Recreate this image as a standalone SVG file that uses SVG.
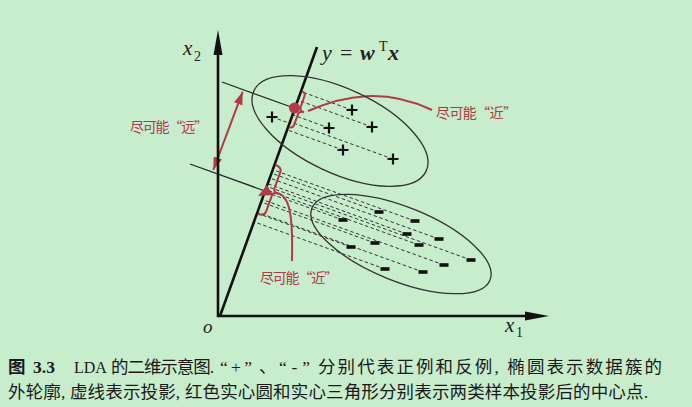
<svg xmlns="http://www.w3.org/2000/svg" width="692" height="407" viewBox="0 0 692 407">
<style>
.bg{fill:#c7edcc}
.axis{stroke:#111;stroke-width:2.6;fill:none}
.thin{stroke:#222;stroke-width:1.2;fill:none}
.ell{stroke:#333;stroke-width:1.3;fill:none}
.dash{stroke:#333;stroke-width:1;stroke-dasharray:3.5 2.5;fill:none}
.red{stroke:#b03a48;stroke-width:2;fill:none}
.redfill{fill:#b03a48}
.plus{stroke:#111;stroke-width:2.2;fill:none}
.minus{fill:#111}
.lbl{font-family:"Noto Sans CJK SC",sans-serif;font-size:14px;fill:#b03a48}
.math{font-family:"Liberation Serif","DejaVu Serif",serif;fill:#222}
.cap{font-family:"Liberation Serif","Noto Sans CJK SC",serif;font-size:17.5px;fill:#1a1a1a}
</style>
<defs>
<marker id="ah" viewBox="0 0 13 9" refX="13" refY="4.5" markerWidth="13" markerHeight="9" markerUnits="userSpaceOnUse" orient="auto-start-reverse">
<path d="M0,0 L13,4.5 L0,9 z" fill="#b03a48"/>
</marker>
<path id="plus" d="M-5.5,0 H5.5 M0,-5.5 V5.5"/>
<rect id="minus" x="-4.5" y="-1.8" width="9" height="3.6"/>
</defs>
<rect class="bg" x="0" y="0" width="692" height="407"/>

<g id="connectors">
<line class="dash" x1="272" y1="117" x2="289.5" y2="123.2"/>
<line class="dash" x1="352" y1="110" x2="300.9" y2="91.5"/>
<line class="dash" x1="329" y1="128" x2="292.5" y2="114.7"/>
<line class="dash" x1="372" y1="127" x2="297.8" y2="100.1"/>
<line class="dash" x1="343" y1="150" x2="287.1" y2="129.8"/>
<line class="dash" x1="393" y1="159" x2="290" y2="121.8"/>
<line class="dash" x1="379" y1="212" x2="271.5" y2="173.2"/>
<line class="dash" x1="343" y1="220" x2="264.7" y2="191.8"/>
<line class="dash" x1="415" y1="221" x2="272.7" y2="169.7"/>
<line class="dash" x1="407" y1="234" x2="267.7" y2="183.7"/>
<line class="dash" x1="439" y1="239" x2="269.7" y2="178"/>
<line class="dash" x1="375" y1="243" x2="261.1" y2="202"/>
<line class="dash" x1="419" y1="245" x2="265.5" y2="189.6"/>
<line class="dash" x1="351" y1="247" x2="257" y2="213.2"/>
<line class="dash" x1="471" y1="260" x2="266.7" y2="186.3"/>
<line class="dash" x1="444" y1="265" x2="262" y2="199.4"/>
<line class="dash" x1="385" y1="269" x2="253.9" y2="221.8"/>
<line class="dash" x1="423" y1="272" x2="257.4" y2="212.3"/>
<line class="thin" x1="222" y1="82" x2="294" y2="108"/>
<line class="thin" x1="190" y1="164" x2="265" y2="191"/>
<line class="red" x1="213.3" y1="170" x2="242.7" y2="91.7" marker-start="url(#ah)" marker-end="url(#ah)"/>
<path class="red" d="M308,111 C345,95 385,88 432,110"/>
<path class="red" d="M277,193 C290,196 293,215 292,261"/>
</g>

<g id="axes">
<line class="axis" x1="218" y1="317" x2="218" y2="50"/>
<polygon points="218,30 213.5,55 222.5,55" fill="#111"/>
<line class="axis" x1="217" y1="316" x2="530" y2="316"/>
<polygon points="549,316 525,311.5 525,320.5" fill="#111"/>
<text class="math" x="183" y="55" font-size="21" font-style="italic">x</text>
<text class="math" x="194" y="61" font-size="14">2</text>
<text class="math" x="505" y="332" font-size="21" font-style="italic">x</text>
<text class="math" x="516" y="337" font-size="14">1</text>
<text class="math" x="203" y="333" font-size="19" font-style="italic">o</text>
</g>

<g id="projection-line">
<line class="axis" x1="220" y1="316" x2="317" y2="47"/>
<text class="math" font-size="22"><tspan x="322" y="60" font-style="italic">y</tspan><tspan x="340" y="60">=</tspan><tspan x="360" y="60" font-style="italic" font-weight="bold">w</tspan><tspan x="379" y="51" font-size="14">T</tspan><tspan x="388" y="60" font-style="italic" font-weight="bold">x</tspan></text>
</g>

<g id="positive-class">
<ellipse class="ell" cx="340" cy="131" rx="95" ry="42" transform="rotate(25 340 131)"/>
<use href="#plus" class="plus" x="272" y="117"/>
<use href="#plus" class="plus" x="352" y="110"/>
<use href="#plus" class="plus" x="329" y="128"/>
<use href="#plus" class="plus" x="372" y="127"/>
<use href="#plus" class="plus" x="343" y="150"/>
<use href="#plus" class="plus" x="393" y="159"/>
</g>

<g id="negative-class">
<ellipse class="ell" cx="401" cy="244" rx="96" ry="37" transform="rotate(22 401 244)"/>
<use href="#minus" class="minus" x="379" y="212"/>
<use href="#minus" class="minus" x="343" y="220"/>
<use href="#minus" class="minus" x="415" y="221"/>
<use href="#minus" class="minus" x="407" y="234"/>
<use href="#minus" class="minus" x="439" y="239"/>
<use href="#minus" class="minus" x="375" y="243"/>
<use href="#minus" class="minus" x="419" y="245"/>
<use href="#minus" class="minus" x="351" y="247"/>
<use href="#minus" class="minus" x="471" y="260"/>
<use href="#minus" class="minus" x="444" y="265"/>
<use href="#minus" class="minus" x="385" y="269"/>
<use href="#minus" class="minus" x="423" y="272"/>
</g>

<g id="projected-centers">
<circle class="redfill" cx="294.5" cy="108" r="5.5"/>
<polygon class="redfill" points="267,185 258,196 273,195"/>
<path class="red" transform="translate(299.3 110.6) rotate(19.8)" d="M-4,-19 Q0,-19 0,-15 L0,-4 Q0,0 5,0 Q0,0 0,4 L0,15 Q0,19 -4,19"/>
<path class="red" transform="translate(273.2 191.8) rotate(19.8)" d="M-7,-26 Q0,-26 0,-21 L0,-4 Q0,0 5,0 Q0,0 0,4 L0,21 Q0,26 -7,26"/>
</g>

<g id="labels">
<text class="lbl" x="436" y="118" textLength="81" lengthAdjust="spacing">尽可能“近”</text>
<text class="lbl" x="130" y="132" textLength="78" lengthAdjust="spacing">尽可能“远”</text>
<text class="lbl" x="260" y="283" textLength="78" lengthAdjust="spacing">尽可能“近”</text>
</g>

<g id="caption">
<text class="cap" y="373"><tspan x="8" font-weight="bold">图</tspan><tspan x="33" font-weight="bold">3.3</tspan><tspan x="74" font-size="16">LDA</tspan><tspan x="111" textLength="103" lengthAdjust="spacing">的二维示意图.</tspan><tspan x="220" textLength="32" lengthAdjust="spacing">“+”</tspan><tspan x="259">、</tspan><tspan x="279" textLength="31" lengthAdjust="spacing">“-”</tspan><tspan x="318" textLength="344" lengthAdjust="spacing">分别代表正例和反例, 椭圆表示数据簇的</tspan></text>
<text class="cap" x="8" y="398" textLength="640" lengthAdjust="spacing">外轮廓, 虚线表示投影, 红色实心圆和实心三角形分别表示两类样本投影后的中心点.</text>
</g>
</svg>
